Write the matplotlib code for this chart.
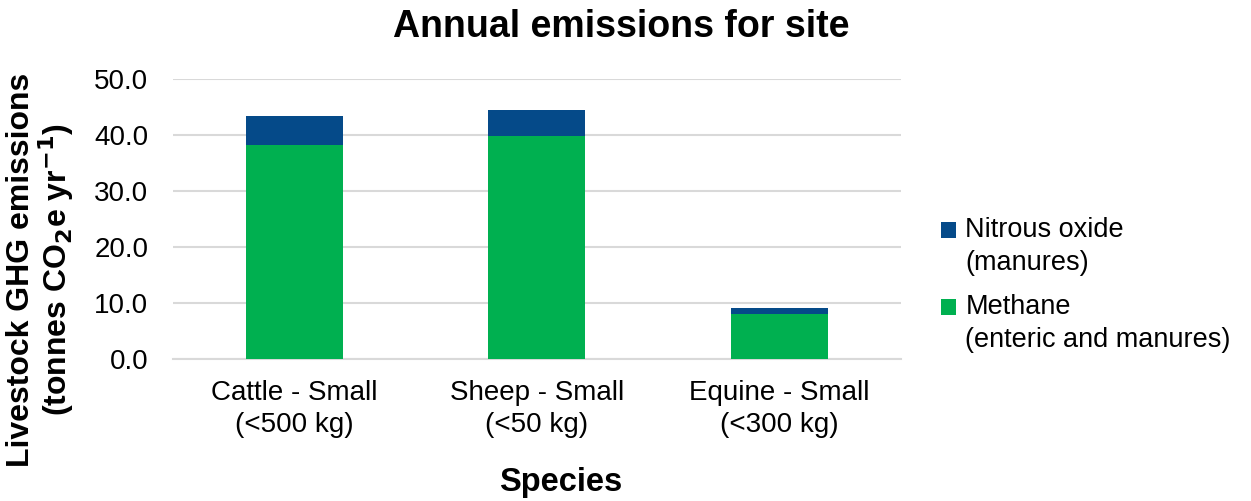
import matplotlib.pyplot as plt
import numpy as np
from matplotlib.patches import Rectangle
from matplotlib.legend_handler import HandlerPatch

plt.rcParams['font.family'] = ['Liberation Sans', 'DejaVu Sans']

species = ['Cattle - Small\n(<500 kg)', 'Sheep - Small\n(<50 kg)', 'Equine - Small\n(<300 kg)']
methane = [38.3, 39.8, 8.0]
nitrous = [5.1, 4.7, 1.1]
yticks = [0, 10, 20, 30, 40, 50]


def top_square(legend, orig_handle, xdescent, ydescent, width, height, fontsize):
    # put the legend square next to the first text line
    return Rectangle((-xdescent, -ydescent + 0.63 * fontsize), width, height)


fig = plt.figure(figsize=(12.51, 5.01), dpi=100)
ax = fig.add_axes([0.1385, 0.283, 0.5815, 0.5587])

x = np.arange(len(species))
bars_m = ax.bar(x, methane, width=0.4, color='#00B050', zorder=3)
bars_n = ax.bar(x, nitrous, width=0.4, bottom=methane, color='#054A89', zorder=3)

ax.set_xlim(-0.5, len(species) - 0.5)
ax.set_ylim(0, 50)
ax.set_yticks(yticks)
ax.set_yticklabels([f'{v:.1f}' for v in yticks], fontsize=20)
ax.set_xticks(x)
ax.set_xticklabels(species, fontsize=20, linespacing=1.3)
ax.tick_params(length=0)
ax.tick_params(axis='x', pad=15)
ax.tick_params(axis='y', pad=18)
ax.grid(axis='y', color='#d9d9d9', linewidth=1.5, zorder=0)
for s in ['top', 'right', 'left']:
    ax.spines[s].set_visible(False)
ax.spines['bottom'].set_color('#d9d9d9')
ax.spines['bottom'].set_linewidth(1.5)

handles = [bars_n.patches[0], bars_m.patches[0]]
labels = ['Nitrous oxide\n(manures)', 'Methane\n(enteric and manures)']
leg = ax.legend(handles, labels, loc='center left', bbox_to_anchor=(1.022, 0.265),
                frameon=False, prop={'size': 19.5}, handlelength=0.55, handleheight=0.55,
                handletextpad=0.35, labelspacing=0.65,
                handler_map={h: HandlerPatch(patch_func=top_square) for h in handles})
for t in leg.get_texts():
    t.set_linespacing(1.35)

fig.text(0.497, 0.946, 'Annual emissions for site', ha='center', va='center',
         fontsize=27, fontweight='bold')
fig.text(0.448, 0.036, 'Species', ha='center', va='center', fontsize=23.5, fontweight='bold')
fig.text(0.033, 0.461, 'Livestock GHG emissions\n(tonnes CO$_\\mathbf{2}$e yr$^{\\mathbf{-1}}$)',
         rotation=90, ha='center', va='center', fontsize=23, fontweight='bold',
         linespacing=1.0)

fig.savefig('out.png', dpi=100)
